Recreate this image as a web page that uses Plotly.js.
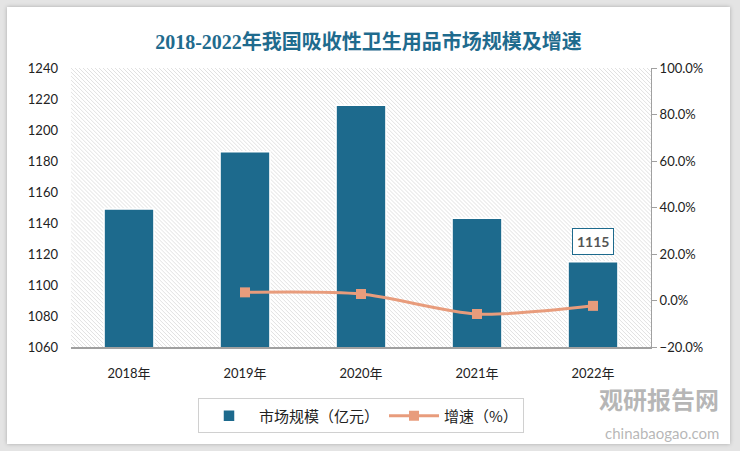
<!DOCTYPE html>
<html><head><meta charset="utf-8">
<script src="https://cdn.plot.ly/plotly-3.0.1.min.js"></script>
<style>
html,body{margin:0;padding:0;background:#e4e4e4;width:740px;height:451px;overflow:hidden}
#chart{position:absolute;left:7px;top:7px;width:723px;height:437px;background:#fff;box-shadow:0 0 4px rgba(0,0,0,0.25)}
</style></head>
<body><div id="chart"></div>
<script>
const categories = ['2018年','2019年','2020年','2021年','2022年'];
const marketSize = [1149, 1186, 1216, 1143, 1115];
const growth = [null, 3.5, 2.8, -5.8, -2.3];
const labelValue = ['', '', '', '', '1115'];

const W = 580, H = 280;
const svg = `<svg xmlns='http://www.w3.org/2000/svg' width='${W}' height='${H}' viewBox='0 0 ${W} ${H}'><defs><pattern id='p' width='4' height='4' patternUnits='userSpaceOnUse'><path d='M-1,-1 L5,5 M3,-1 L5,1 M-1,3 L1,5' stroke='#d9d9d9' stroke-width='0.8'/></pattern></defs><rect width='${W}' height='${H}' fill='#ffffff'/><rect width='${W}' height='${H}' fill='url(#p)'/></svg>`;
const bgImg = 'data:image/svg+xml;base64,' + btoa(svg);

const tickFont = {family:'Lato, "Noto Sans CJK SC", sans-serif', size:13, color:'#222'};

const traces = [
  {type:'bar', x:categories, y:marketSize, name:'市场规模（亿元）', width:0.43,
   marker:{color:'#1D6A8D', line:{color:'#ffffff', width:1.5}}, yaxis:'y', hoverinfo:'y'},
  {type:'scatter', mode:'lines+markers', x:categories, y:growth, name:'增速（%）', yaxis:'y2',
   line:{color:'#E89C7C', width:3, shape:'spline', smoothing:0.8},
   marker:{symbol:'square', size:10, color:'#E89C7C'}, connectgaps:false}
];

const annotations = [];
categories.forEach((c,i)=>{
  if(labelValue[i]){
    annotations.push({x:c, y:marketSize[i], xref:'x', yref:'y', yshift:20, text:'<b>'+labelValue[i]+'</b>',
      showarrow:false, bgcolor:'#ffffff', bordercolor:'#1D6A8D', borderwidth:1, borderpad:4,
      font:{family:'Lato, sans-serif', size:14, color:'#555'}});
  }
});
annotations.push({xref:'paper', yref:'paper', x:1.12, y:-0.115, xanchor:'right', yanchor:'top', text:'<b>观研报告网</b>', showarrow:false,
  font:{family:'"Noto Sans CJK SC", sans-serif', size:24, color:'rgba(110,110,110,0.5)'}});
annotations.push({xref:'paper', yref:'paper', x:1.12, y:-0.27, xanchor:'right', yanchor:'top', text:'chinabaogao.com', showarrow:false,
  font:{family:'Lato, sans-serif', size:15, color:'rgba(110,110,110,0.5)'}});

const layout = {
  width:723, height:437,
  margin:{l:64, r:79, t:61, b:96},
  paper_bgcolor:'rgba(0,0,0,0)', plot_bgcolor:'rgba(0,0,0,0)',
  title:{text:'<b>2018-2022年我国吸收性卫生用品市场规模及增速</b>', x:0.5, xanchor:'center', y:0.935,
    font:{family:'"Liberation Serif", "Noto Sans CJK SC", serif', size:20, color:'#1F6B8E'}},
  xaxis:{type:'category', showgrid:false, showline:true, linecolor:'#a0a0a0', linewidth:1.5, ticks:'',
    tickfont:tickFont, ticklabelstandoff:14},
  yaxis:{range:[1060,1240], dtick:20, showgrid:false, zeroline:false, showline:false, tickfont:tickFont, ticks:'',
    ticklabelstandoff:12},
  yaxis2:{overlaying:'y', side:'right', range:[-20,100], dtick:20, showgrid:false, zeroline:false,
    showline:true, linecolor:'#a0a0a0', linewidth:1, ticks:'outside', ticklen:5, tickcolor:'#a0a0a0',
    tickformat:'.1f', ticksuffix:'%', tickfont:tickFont},
  images:[{source:bgImg, xref:'paper', yref:'paper', x:0, y:1, sizex:1, sizey:1, sizing:'stretch', layer:'below', xanchor:'left', yanchor:'top'}],
  legend:{orientation:'h', x:0.5, xanchor:'center', y:-0.18, yanchor:'top', bordercolor:'#d0d0d0', borderwidth:1,
    font:{family:'"Noto Sans CJK SC", sans-serif', size:15, color:'#222'}, itemwidth:50, tracegroupgap:0},
  annotations:annotations,
  showlegend:true
};

Plotly.newPlot('chart', traces, layout, {displayModeBar:false, staticPlot:true});
</script></body></html>
